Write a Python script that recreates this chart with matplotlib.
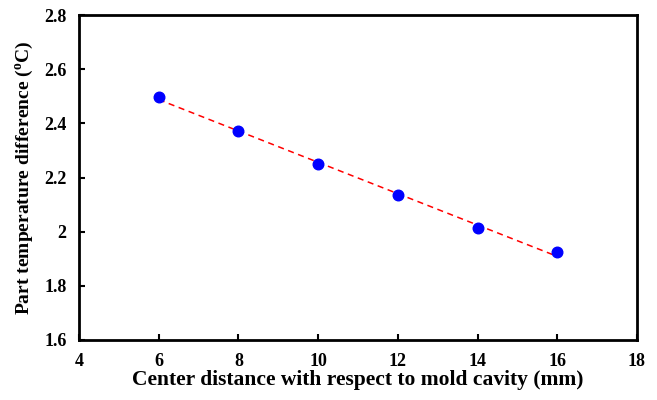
import numpy as np
import matplotlib.pyplot as plt

plt.rcParams['font.family'] = ['Liberation Serif', 'DejaVu Serif']
plt.rcParams['font.weight'] = 'bold'

distance = [6, 8, 10, 12, 14, 16]
temp_diff = [2.497, 2.371, 2.249, 2.135, 2.013, 1.924]

fig = plt.figure(figsize=(6.57, 4.0), dpi=100)
ax = fig.add_axes([79 / 657, 60 / 400, 558 / 657, 325 / 400])

# linear trend
k, b = np.polyfit(distance, temp_diff, 1)
xl = np.array([distance[0], distance[-1]])
ax.plot(xl, k * xl + b, color='red', linestyle=(0, (4, 3)), linewidth=1.1, zorder=2)
ax.scatter(distance, temp_diff, s=58, color='#0000ff', zorder=3)

ax.set_xlim(4, 18)
ax.set_ylim(1.6, 2.8)
ax.set_xticks(range(4, 19, 2))
ax.set_yticks([1.6, 1.8, 2.0, 2.2, 2.4, 2.6, 2.8])
ax.set_yticklabels(['1.6', '1.8', '2', '2.2', '2.4', '2.6', '2.8'])
ax.tick_params(direction='in', length=4, width=1.5, labelsize=13, pad=9)
for s in ax.spines.values():
    s.set_linewidth(2)

ax.set_xlabel('Center distance with respect to mold cavity (mm)', fontsize=15.5, fontweight='bold', labelpad=0)
ax.set_ylabel('Part temperature difference ($^{\\mathregular{o}}$C)', fontsize=14, fontweight='bold', labelpad=6)

fig.savefig('out.png', dpi=100)
